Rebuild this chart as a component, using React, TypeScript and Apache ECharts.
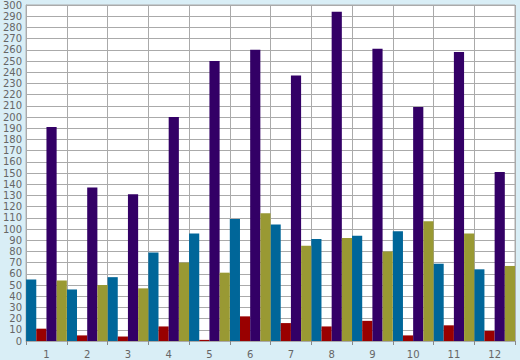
import React, { useEffect, useRef } from "react";
import * as echarts from "echarts";

const categories = ["1", "2", "3", "4", "5", "6", "7", "8", "9", "10", "11", "12"];
const blueValues = [55, 46, 57, 79, 96, 109, 104, 91, 94, 98, 69, 64];
const redValues = [11, 5, 4, 13, 1, 22, 16, 13, 18, 5, 14, 9];
const purpleValues = [191, 137, 131, 200, 250, 260, 237, 294, 261, 209, 258, 151];
const oliveValues = [54, 50, 47, 70, 61, 114, 85, 92, 80, 107, 96, 67];

export default function App() {
  const ref = useRef<HTMLDivElement>(null);
  useEffect(() => {
    if (!ref.current) return;
    const chart = echarts.init(ref.current, null, { renderer: "svg" });
    const font = "DejaVu Sans";
    const mk = (name: string, data: number[], color: string) => ({
      name,
      type: "bar",
      data,
      barGap: "0%",
      barCategoryGap: "0%",
      itemStyle: { color },
    });
    chart.setOption({
      animation: false,
      backgroundColor: "#d9eef6",
      grid: {
        left: 26,
        right: 5,
        top: 5,
        bottom: 19,
        show: true,
        backgroundColor: "#ffffff",
        borderColor: "#aaaaaa",
        borderWidth: 1,
      },
      xAxis: {
        type: "category",
        data: categories,
        boundaryGap: true,
        axisLine: { show: true, lineStyle: { color: "#aaaaaa" } },
        axisTick: { show: true, interval: 0, length: 4, lineStyle: { color: "#888888" } },
        splitLine: { show: true, interval: 0, lineStyle: { color: "#aaaaaa", width: 1 } },
        axisLabel: { interval: 0, color: "#666666", fontSize: 10, fontFamily: font, margin: 8 },
      },
      yAxis: {
        type: "value",
        min: 0,
        max: 300,
        interval: 10,
        axisLine: { show: true, lineStyle: { color: "#aaaaaa" } },
        axisTick: { show: false },
        splitLine: { show: true, lineStyle: { color: "#aaaaaa", width: 1 } },
        axisLabel: { color: "#666666", fontSize: 10, fontFamily: font, margin: 4 },
      },
      series: [
        mk("A", blueValues, "#006699"),
        mk("B", redValues, "#990000"),
        mk("C", purpleValues, "#330066"),
        mk("D", oliveValues, "#999933"),
      ],
    });
    return () => chart.dispose();
  }, []);
  return <div ref={ref} style={{ width: 520, height: 360, position: "absolute", left: 0, top: 0 }} />;
}
